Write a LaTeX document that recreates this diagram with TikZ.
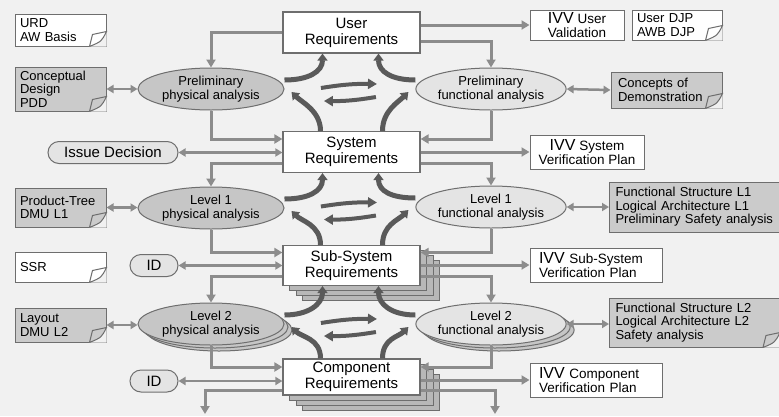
\documentclass[tikz,border=0pt]{standalone}
\usepackage{fontspec}
\setmainfont{Liberation Sans}
\usetikzlibrary{arrows.meta,calc,shadows,shapes.geometric}

\definecolor{bgcol}{HTML}{F1F1F1}
\definecolor{linegray}{HTML}{8C8C8C}
\definecolor{boxline}{HTML}{6E6E6E}
\definecolor{physgray}{HTML}{C6C6C6}
\definecolor{funcgray}{HTML}{E4E4E4}
\definecolor{docgray}{HTML}{CBCBCB}
\definecolor{stackgray}{HTML}{B8B8B8}
\definecolor{arcgray}{HTML}{5A5A5A}

\newcommand{\ivvtag}{{\fontsize{16}{13.5}\selectfont IVV}}

% folded corner of a document node
\newcommand{\dogear}[2]{%
  \fill[bgcol] ([xshift=-17pt]#1.south east) -- (#1.south east) -- ([yshift=15pt]#1.south east) -- cycle;
  \filldraw[fill=#2, draw=boxline, line width=1pt] ([xshift=-17pt]#1.south east) -- ([xshift=-14pt,yshift=12pt]#1.south east)
    -- ([yshift=15pt]#1.south east) .. controls ([xshift=-5pt,yshift=5pt]#1.south east) .. ([xshift=-17pt]#1.south east);
}

% the four arcs and the swap arrows between two requirement levels
\newcommand{\analysisloop}[4]{%
  \draw[cyclearc] ([yshift=9pt]#3.east) .. controls +(24pt,0pt) and +(0pt,-18pt) .. ([xshift=-29pt]#1.south);
  \draw[cyclearc] ([yshift=9pt]#4.west) .. controls +(-24pt,0pt) and +(0pt,-18pt) .. ([xshift=27pt]#1.south);
  \draw[cyclearc] ([xshift=-31pt]#2.north) .. controls +(0pt,20pt) and +(10pt,-10pt) .. ([xshift=7pt,yshift=-3pt]#3.east);
  \draw[cyclearc] ([xshift=31pt]#2.north) .. controls +(0pt,20pt) and +(-10pt,-10pt) .. ([xshift=-7pt,yshift=-3pt]#4.west);
  \coordinate (mid) at ($(#3.east)!0.5!(#4.west)$);
  \draw[swaparrow] ([shift={(-29pt,1pt)}]mid) to[bend left=5] ([shift={(27pt,5pt)}]mid);
  \draw[swaparrow] ([shift={(26pt,-8pt)}]mid) to[bend left=5] ([shift={(-26pt,-12pt)}]mid);
}

\tikzset{
  reqbox/.style={rectangle, draw=boxline, line width=1.2pt, fill=white, minimum width=137pt,
    minimum height=41pt, inner sep=0pt, align=center, font=\fontsize{15}{16}\selectfont},
  stackbox/.style={reqbox,
    copy shadow={shadow xshift=19.5pt, shadow yshift=-15pt, fill=stackgray, draw=boxline, line width=1pt},
    copy shadow={shadow xshift=13pt, shadow yshift=-10pt, fill=stackgray, draw=boxline, line width=1pt},
    copy shadow={shadow xshift=6.5pt, shadow yshift=-5pt, fill=stackgray, draw=boxline, line width=1pt}},
  physell/.style={ellipse, draw=boxline, line width=1pt, fill=physgray, minimum width=146pt,
    minimum height=42pt, inner sep=0pt, align=center, font=\fontsize{13}{14}\selectfont},
  funcell/.style={physell, fill=funcgray, minimum width=149pt},
  stackell/.style={
    copy shadow={shadow xshift=8pt, shadow yshift=-6pt, fill=physgray, draw=boxline, line width=1pt},
    copy shadow={shadow xshift=4pt, shadow yshift=-3pt, fill=physgray, draw=boxline, line width=1pt}},
  docbox/.style={rectangle, draw=boxline, line width=1pt, inner xsep=5pt, inner ysep=0pt,
    align=left, font=\fontsize{13}{13.5}\selectfont},
  pill/.style={rectangle, rounded corners=11pt, draw=boxline, line width=1pt, fill=funcgray,
    inner sep=0pt, minimum height=22pt, font=\fontsize{15}{16}\selectfont},
  ivvbox/.style={rectangle, draw=boxline, line width=1pt, fill=white, inner sep=0pt,
    align=center, font=\fontsize{13.5}{13.5}\selectfont},
  flow/.style={draw=linegray, line width=3pt, -{Triangle[length=8pt,width=9pt]}},
  dflow/.style={draw=linegray, line width=2.5pt, {Triangle[length=7pt,width=8pt]}-{Triangle[length=7pt,width=8pt]}},
  cyclearc/.style={draw=arcgray, line width=5pt, -{Triangle[length=7pt,width=10pt]}},
  swaparrow/.style={draw=arcgray, line width=4pt, -{Triangle[length=9pt,width=10pt]}},
}

\begin{document}
\begin{tikzpicture}[x=1pt, y=-1pt]
  \fill[bgcol] (0,0) rectangle (779,416);
  \useasboundingbox (0,0) rectangle (779,416);

  % requirement levels
  \node[reqbox] (ureq) at (351.5,32.5) {User\\Requirements};
  \node[reqbox] (sreq) at (351.5,152) {System\\Requirements};
  \node[stackbox, minimum height=40pt] (ssreq) at (351.5,265.5) {Sub-System\\Requirements};
  \node[stackbox, minimum height=36pt] (creq) at (351.5,377) {Component\\Requirements};

  % analyses
  \node[physell] (pphys) at (211,89) {Preliminary\\physical analysis};
  \node[funcell] (pfunc) at (491,89) {Preliminary\\functional analysis};
  \node[physell] (lphys1) at (211,208) {Level 1\\physical analysis};
  \node[funcell] (lfunc1) at (491,207) {Level 1\\functional analysis};
  \node[physell, stackell] (lphys2) at (211,324) {Level 2\\physical analysis};
  \node[funcell, stackell] (lfunc2) at (491,324) {Level 2\\functional analysis};

  % left column
  \node[docbox, fill=white, text width=81pt, minimum height=32pt] (urd) at (60.5,30) {URD\\AW Basis};
  \node[docbox, fill=docgray, text width=81pt, minimum height=44pt] (cdp) at (60.5,89) {Conceptual\\Design\\PDD};
  \node[pill, minimum width=130pt] (issue) at (113,152.5) {Issue Decision};
  \node[docbox, fill=docgray, text width=81pt, minimum height=39pt] (ptree) at (60.5,207.5) {Product-Tree\\DMU L1};
  \node[docbox, fill=white, text width=81pt, minimum height=30pt] (ssr) at (60.5,267) {SSR};
  \node[pill, minimum width=48pt] (idss) at (154,265.5) {ID};
  \node[docbox, fill=docgray, text width=81pt, minimum height=34pt] (layout) at (60.5,325) {Layout\\DMU L2};
  \node[pill, minimum width=48pt] (idc) at (154,381) {ID};

  % right column
  \node[ivvbox, minimum width=94pt, minimum height=30pt] (ivvu) at (577,25) {\ivvtag{} User\\Validation};
  \node[docbox, fill=white, text width=80pt, minimum height=30pt] (djp) at (677,25) {User DJP\\AWB DJP};
  \node[docbox, fill=docgray, inner xsep=7pt, text width=97pt, minimum height=36pt] (cod) at (666.5,90) {Concepts of\\Demonstration};
  \node[ivvbox, minimum width=114pt, minimum height=34pt] (ivvs) at (587,152) {\ivvtag{} System\\Verification Plan};
  \node[docbox, fill=docgray, inner xsep=6pt, text width=158pt, minimum height=50pt] (fs1) at (694.5,207) {Functional Structure L1\\Logical Architecture L1\\Preliminary Safety analysis};
  \node[ivvbox, align=left, inner xsep=9pt, text width=114pt, minimum height=34pt] (ivvss) at (596,265) {\ivvtag{} Sub-System\\Verification Plan};
  \node[docbox, fill=docgray, inner xsep=6pt, text width=158pt, minimum height=49pt] (fs2) at (694.5,322.5) {Functional Structure L2\\Logical Architecture L2\\Safety analysis};
  \node[ivvbox, align=left, inner xsep=9pt, text width=114pt, minimum height=34pt] (ivvc) at (596,380) {\ivvtag{} Component\\Verification Plan};

  \dogear{urd}{white}
  \dogear{cdp}{docgray}
  \dogear{ptree}{docgray}
  \dogear{ssr}{white}
  \dogear{layout}{docgray}
  \dogear{djp}{white}
  \dogear{cod}{docgray}
  \dogear{fs2}{docgray}

  \coordinate (cbl) at (205,414);
  \coordinate (cbr) at (495,414);

  % user level
  \draw[flow] (ureq.west) -| (pphys.north);
  \draw[flow] (ureq.east |- ivvu.west) -- (ivvu.west);
  \draw[flow] ([yshift=-9pt]ureq.east) -| (pfunc.north);
  \draw[dflow] (cdp.east) -- (pphys.west);
  \draw[dflow] (pfunc.east) -- (cod.west);

  % system level
  \draw[flow] (pphys.south) |- ([yshift=13pt]sreq.west);
  \draw[dflow] (issue.east) -- (issue.east -| sreq.west);
  \draw[flow] ([yshift=-11pt]sreq.west) -| (lphys1.north);
  \draw[flow] (pfunc.south) |- ([yshift=13pt]sreq.east);
  \draw[flow] (sreq.east |- ivvs.west) -- (ivvs.west);
  \draw[flow] ([yshift=-11pt]sreq.east) -| (lfunc1.north);
  \draw[dflow] (ptree.east) -- (ptree.east -| lphys1.west);
  \draw[dflow] (lfunc1.east) -- (lfunc1.east -| fs1.west);

  % sub-system level
  \draw[flow] (lphys1.south) |- ([yshift=13pt]ssreq.west);
  \draw[dflow] (idss.east) -- (idss.east -| ssreq.west);
  \draw[flow] ([yshift=-11pt]ssreq.west) -| (lphys2.north);
  \draw[flow] (lfunc1.south) |- ([yshift=13pt]ssreq.east);
  \draw[flow] (ssreq.east |- ivvss.west) -- (ivvss.west);
  \draw[flow] ([yshift=-11pt]ssreq.east) -| (lfunc2.north);
  \draw[dflow] (layout.east) -- (layout.east -| lphys2.west);
  \draw[dflow] (lfunc2.east) -- (lfunc2.east -| fs2.west);

  % component level
  \draw[flow] (lphys2.south) |- ([yshift=10pt]creq.west);
  \draw[dflow] (idc.east) -- (idc.east -| creq.west);
  \draw[flow] ([yshift=-13pt]creq.west) -| (cbl);
  \draw[flow] (lfunc2.south) |- ([yshift=10pt]creq.east);
  \draw[flow] (creq.east |- ivvc.west) -- (ivvc.west);
  \draw[flow] ([yshift=-13pt]creq.east) -| (cbr);

  \analysisloop{ureq}{sreq}{pphys}{pfunc}
  \analysisloop{sreq}{ssreq}{lphys1}{lfunc1}
  \analysisloop{ssreq}{creq}{lphys2}{lfunc2}
\end{tikzpicture}
\end{document}
